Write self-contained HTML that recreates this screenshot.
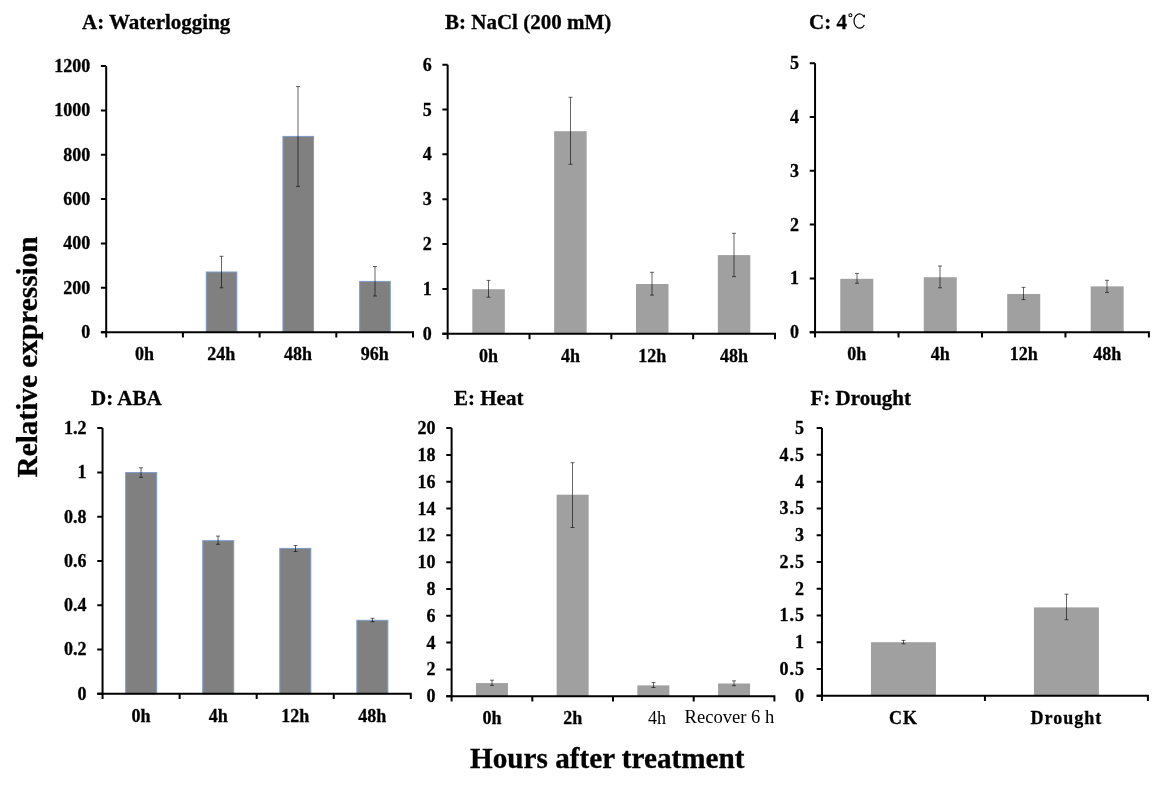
<!DOCTYPE html><html><head><meta charset="utf-8"><style>html,body{margin:0;padding:0;background:#fff;width:1156px;height:790px;overflow:hidden}svg{display:block;will-change:transform}text{font-family:'Liberation Serif', serif;fill:#000}text[font-weight=bold]{stroke:#000;stroke-width:0.3px}</style></head><body>
<svg width="1156" height="790" viewBox="0 0 1156 790">
<text x="82" y="28.5" font-size="21" font-weight="bold">A: Waterlogging</text>
<text x="445" y="29" font-size="21" font-weight="bold">B: NaCl (200 mM)</text>
<text x="809" y="29" font-size="21" font-weight="bold">C: 4</text>
<circle cx="850.4" cy="15.2" r="1.5" fill="none" stroke="#000" stroke-width="1.1"/>
<path d="M864.3 17.2A5.6 7.1 0 1 0 864.3 24.9M864.3 14.8V17.6" fill="none" stroke="#000" stroke-width="1.2"/>
<text x="91" y="405" font-size="21" font-weight="bold">D: ABA</text>
<text x="454" y="405" font-size="21" font-weight="bold">E: Heat</text>
<text x="810.5" y="405" font-size="21" font-weight="bold">F: Drought</text>
<text x="470" y="767.5" font-size="29.2" font-weight="bold">Hours after treatment</text>
<text transform="translate(36.9 477.5) rotate(-90)" x="0" y="0" font-size="29.3" font-weight="bold">Relative expression</text>
<rect x="206.25" y="272.00" width="30.60" height="60.20" fill="#808080" stroke="#7d9bc9" stroke-width="1"/>
<path d="M221.50 256.30V287.80M219.50 256.30H223.50M219.50 287.80H223.50" stroke="#000" stroke-opacity="0.6" stroke-width="1" fill="none"/>
<rect x="282.95" y="136.40" width="30.60" height="195.80" fill="#808080" stroke="#7d9bc9" stroke-width="1"/>
<path d="M298.00 86.60V186.40M296.00 86.60H300.00M296.00 186.40H300.00" stroke="#000" stroke-opacity="0.6" stroke-width="1" fill="none"/>
<rect x="359.65" y="281.40" width="30.60" height="50.80" fill="#808080" stroke="#7d9bc9" stroke-width="1"/>
<path d="M375.00 266.50V296.00M373.00 266.50H377.00M373.00 296.00H377.00" stroke="#000" stroke-opacity="0.6" stroke-width="1" fill="none"/>
<path d="M106.20 66.05V337.50M100.90 332.20H413.00V337.50" stroke="#000" stroke-width="2" fill="none"/>
<path d="M100.90 332.20H106.20M100.90 287.84H106.20M100.90 243.48H106.20M100.90 199.12H106.20M100.90 154.77H106.20M100.90 110.41H106.20M100.90 66.05H106.20M182.90 332.20V337.50M259.60 332.20V337.50M336.30 332.20V337.50" stroke="#000" stroke-width="2" fill="none"/>
<text x="90.20" y="338.20" text-anchor="end" font-size="18" font-weight="bold" letter-spacing="0">0</text>
<text x="90.20" y="293.84" text-anchor="end" font-size="18" font-weight="bold" letter-spacing="0">200</text>
<text x="90.20" y="249.48" text-anchor="end" font-size="18" font-weight="bold" letter-spacing="0">400</text>
<text x="90.20" y="205.12" text-anchor="end" font-size="18" font-weight="bold" letter-spacing="0">600</text>
<text x="90.20" y="160.77" text-anchor="end" font-size="18" font-weight="bold" letter-spacing="0">800</text>
<text x="90.20" y="116.41" text-anchor="end" font-size="18" font-weight="bold" letter-spacing="0">1000</text>
<text x="90.20" y="72.05" text-anchor="end" font-size="18" font-weight="bold" letter-spacing="0">1200</text>
<text x="144.55" y="360.00" text-anchor="middle" font-size="18" font-weight="bold" letter-spacing="0">0h</text>
<text x="221.25" y="360.00" text-anchor="middle" font-size="18" font-weight="bold" letter-spacing="0">24h</text>
<text x="297.95" y="360.00" text-anchor="middle" font-size="18" font-weight="bold" letter-spacing="0">48h</text>
<text x="374.65" y="360.00" text-anchor="middle" font-size="18" font-weight="bold" letter-spacing="0">96h</text>
<rect x="472.33" y="289.20" width="32.50" height="44.63" fill="#a0a0a0"/>
<path d="M488.50 280.40V297.20M486.50 280.40H490.50M486.50 297.20H490.50" stroke="#000" stroke-opacity="0.6" stroke-width="1" fill="none"/>
<rect x="554.16" y="131.20" width="32.50" height="202.63" fill="#a0a0a0"/>
<path d="M570.50 97.30V164.30M568.50 97.30H572.50M568.50 164.30H572.50" stroke="#000" stroke-opacity="0.6" stroke-width="1" fill="none"/>
<rect x="636.00" y="284.00" width="32.50" height="49.83" fill="#a0a0a0"/>
<path d="M652.00 272.30V295.10M650.00 272.30H654.00M650.00 295.10H654.00" stroke="#000" stroke-opacity="0.6" stroke-width="1" fill="none"/>
<rect x="717.83" y="255.10" width="32.50" height="78.73" fill="#a0a0a0"/>
<path d="M734.00 233.30V276.60M732.00 233.30H736.00M732.00 276.60H736.00" stroke="#000" stroke-opacity="0.6" stroke-width="1" fill="none"/>
<path d="M447.66 64.63V339.13M442.36 333.83H775.00V339.13" stroke="#000" stroke-width="2" fill="none"/>
<path d="M442.36 333.83H447.66M442.36 288.96H447.66M442.36 244.10H447.66M442.36 199.23H447.66M442.36 154.36H447.66M442.36 109.50H447.66M442.36 64.63H447.66M529.50 333.83V339.13M611.33 333.83V339.13M693.16 333.83V339.13" stroke="#000" stroke-width="2" fill="none"/>
<text x="431.66" y="339.83" text-anchor="end" font-size="18" font-weight="bold" letter-spacing="0">0</text>
<text x="431.66" y="294.96" text-anchor="end" font-size="18" font-weight="bold" letter-spacing="0">1</text>
<text x="431.66" y="250.10" text-anchor="end" font-size="18" font-weight="bold" letter-spacing="0">2</text>
<text x="431.66" y="205.23" text-anchor="end" font-size="18" font-weight="bold" letter-spacing="0">3</text>
<text x="431.66" y="160.36" text-anchor="end" font-size="18" font-weight="bold" letter-spacing="0">4</text>
<text x="431.66" y="115.50" text-anchor="end" font-size="18" font-weight="bold" letter-spacing="0">5</text>
<text x="431.66" y="70.63" text-anchor="end" font-size="18" font-weight="bold" letter-spacing="0">6</text>
<text x="488.58" y="361.50" text-anchor="middle" font-size="18" font-weight="bold" letter-spacing="0">0h</text>
<text x="570.41" y="361.50" text-anchor="middle" font-size="18" font-weight="bold" letter-spacing="0">4h</text>
<text x="652.25" y="361.50" text-anchor="middle" font-size="18" font-weight="bold" letter-spacing="0">12h</text>
<text x="734.08" y="361.50" text-anchor="middle" font-size="18" font-weight="bold" letter-spacing="0">48h</text>
<rect x="840.28" y="278.80" width="33.00" height="53.40" fill="#a0a0a0"/>
<path d="M857.00 273.40V283.20M855.00 273.40H859.00M855.00 283.20H859.00" stroke="#000" stroke-opacity="0.6" stroke-width="1" fill="none"/>
<rect x="923.74" y="277.20" width="33.00" height="55.00" fill="#a0a0a0"/>
<path d="M940.00 266.00V287.80M938.00 266.00H942.00M938.00 287.80H942.00" stroke="#000" stroke-opacity="0.6" stroke-width="1" fill="none"/>
<rect x="1007.21" y="294.00" width="33.00" height="38.20" fill="#a0a0a0"/>
<path d="M1023.50 287.40V299.60M1021.50 287.40H1025.50M1021.50 299.60H1025.50" stroke="#000" stroke-opacity="0.6" stroke-width="1" fill="none"/>
<rect x="1090.67" y="286.40" width="33.00" height="45.80" fill="#a0a0a0"/>
<path d="M1107.00 280.30V292.40M1105.00 280.30H1109.00M1105.00 292.40H1109.00" stroke="#000" stroke-opacity="0.6" stroke-width="1" fill="none"/>
<path d="M815.05 63.15V337.50M809.75 332.20H1148.90V337.50" stroke="#000" stroke-width="2" fill="none"/>
<path d="M809.75 332.20H815.05M809.75 278.39H815.05M809.75 224.58H815.05M809.75 170.77H815.05M809.75 116.96H815.05M809.75 63.15H815.05M898.51 332.20V337.50M981.98 332.20V337.50M1065.44 332.20V337.50" stroke="#000" stroke-width="2" fill="none"/>
<text x="799.05" y="338.20" text-anchor="end" font-size="18" font-weight="bold" letter-spacing="0">0</text>
<text x="799.05" y="284.39" text-anchor="end" font-size="18" font-weight="bold" letter-spacing="0">1</text>
<text x="799.05" y="230.58" text-anchor="end" font-size="18" font-weight="bold" letter-spacing="0">2</text>
<text x="799.05" y="176.77" text-anchor="end" font-size="18" font-weight="bold" letter-spacing="0">3</text>
<text x="799.05" y="122.96" text-anchor="end" font-size="18" font-weight="bold" letter-spacing="0">4</text>
<text x="799.05" y="69.15" text-anchor="end" font-size="18" font-weight="bold" letter-spacing="0">5</text>
<text x="856.78" y="360.00" text-anchor="middle" font-size="18" font-weight="bold" letter-spacing="0">0h</text>
<text x="940.24" y="360.00" text-anchor="middle" font-size="18" font-weight="bold" letter-spacing="0">4h</text>
<text x="1023.71" y="360.00" text-anchor="middle" font-size="18" font-weight="bold" letter-spacing="0">12h</text>
<text x="1107.17" y="360.00" text-anchor="middle" font-size="18" font-weight="bold" letter-spacing="0">48h</text>
<rect x="125.68" y="472.60" width="31.00" height="221.15" fill="#808080" stroke="#7d9bc9" stroke-width="1"/>
<path d="M141.00 467.80V477.30M139.00 467.80H143.00M139.00 477.30H143.00" stroke="#000" stroke-opacity="0.6" stroke-width="1" fill="none"/>
<rect x="202.74" y="540.70" width="31.00" height="153.05" fill="#808080" stroke="#7d9bc9" stroke-width="1"/>
<path d="M218.00 536.10V544.30M216.00 536.10H220.00M216.00 544.30H220.00" stroke="#000" stroke-opacity="0.6" stroke-width="1" fill="none"/>
<rect x="279.81" y="548.40" width="31.00" height="145.35" fill="#808080" stroke="#7d9bc9" stroke-width="1"/>
<path d="M295.50 545.50V551.50M293.50 545.50H297.50M293.50 551.50H297.50" stroke="#000" stroke-opacity="0.6" stroke-width="1" fill="none"/>
<rect x="356.87" y="620.30" width="31.00" height="73.45" fill="#808080" stroke="#7d9bc9" stroke-width="1"/>
<path d="M372.50 618.30V621.70M370.50 618.30H374.50M370.50 621.70H374.50" stroke="#000" stroke-opacity="0.6" stroke-width="1" fill="none"/>
<path d="M102.55 428.10V699.05M97.25 693.75H410.80V699.05" stroke="#000" stroke-width="2" fill="none"/>
<path d="M97.25 693.75H102.55M97.25 649.48H102.55M97.25 605.20H102.55M97.25 560.92H102.55M97.25 516.65H102.55M97.25 472.38H102.55M97.25 428.10H102.55M179.61 693.75V699.05M256.68 693.75V699.05M333.74 693.75V699.05" stroke="#000" stroke-width="2" fill="none"/>
<text x="86.55" y="699.75" text-anchor="end" font-size="18" font-weight="bold" letter-spacing="0">0</text>
<text x="86.55" y="655.48" text-anchor="end" font-size="18" font-weight="bold" letter-spacing="0">0.2</text>
<text x="86.55" y="611.20" text-anchor="end" font-size="18" font-weight="bold" letter-spacing="0">0.4</text>
<text x="86.55" y="566.92" text-anchor="end" font-size="18" font-weight="bold" letter-spacing="0">0.6</text>
<text x="86.55" y="522.65" text-anchor="end" font-size="18" font-weight="bold" letter-spacing="0">0.8</text>
<text x="86.55" y="478.38" text-anchor="end" font-size="18" font-weight="bold" letter-spacing="0">1</text>
<text x="86.55" y="434.10" text-anchor="end" font-size="18" font-weight="bold" letter-spacing="0">1.2</text>
<text x="141.08" y="721.50" text-anchor="middle" font-size="18" font-weight="bold" letter-spacing="0">0h</text>
<text x="218.14" y="721.50" text-anchor="middle" font-size="18" font-weight="bold" letter-spacing="0">4h</text>
<text x="295.21" y="721.50" text-anchor="middle" font-size="18" font-weight="bold" letter-spacing="0">12h</text>
<text x="372.27" y="721.50" text-anchor="middle" font-size="18" font-weight="bold" letter-spacing="0">48h</text>
<rect x="475.95" y="683.10" width="32.00" height="13.10" fill="#a0a0a0"/>
<path d="M492.00 680.20V685.40M490.00 680.20H494.00M490.00 685.40H494.00" stroke="#000" stroke-opacity="0.6" stroke-width="1" fill="none"/>
<rect x="556.65" y="494.70" width="32.00" height="201.50" fill="#a0a0a0"/>
<path d="M572.50 462.70V527.50M570.50 462.70H574.50M570.50 527.50H574.50" stroke="#000" stroke-opacity="0.6" stroke-width="1" fill="none"/>
<rect x="637.35" y="685.40" width="32.00" height="10.80" fill="#a0a0a0"/>
<path d="M653.50 682.60V687.50M651.50 682.60H655.50M651.50 687.50H655.50" stroke="#000" stroke-opacity="0.6" stroke-width="1" fill="none"/>
<rect x="718.05" y="683.50" width="32.00" height="12.70" fill="#a0a0a0"/>
<path d="M734.00 680.90V685.70M732.00 680.90H736.00M732.00 685.70H736.00" stroke="#000" stroke-opacity="0.6" stroke-width="1" fill="none"/>
<path d="M451.60 428.10V701.50M446.30 696.20H774.40V701.50" stroke="#000" stroke-width="2" fill="none"/>
<path d="M446.30 696.20H451.60M446.30 669.39H451.60M446.30 642.58H451.60M446.30 615.77H451.60M446.30 588.96H451.60M446.30 562.15H451.60M446.30 535.34H451.60M446.30 508.53H451.60M446.30 481.72H451.60M446.30 454.91H451.60M446.30 428.10H451.60M532.30 696.20V701.50M613.00 696.20V701.50M693.70 696.20V701.50" stroke="#000" stroke-width="2" fill="none"/>
<text x="435.60" y="702.20" text-anchor="end" font-size="18" font-weight="bold" letter-spacing="0">0</text>
<text x="435.60" y="675.39" text-anchor="end" font-size="18" font-weight="bold" letter-spacing="0">2</text>
<text x="435.60" y="648.58" text-anchor="end" font-size="18" font-weight="bold" letter-spacing="0">4</text>
<text x="435.60" y="621.77" text-anchor="end" font-size="18" font-weight="bold" letter-spacing="0">6</text>
<text x="435.60" y="594.96" text-anchor="end" font-size="18" font-weight="bold" letter-spacing="0">8</text>
<text x="435.60" y="568.15" text-anchor="end" font-size="18" font-weight="bold" letter-spacing="0">10</text>
<text x="435.60" y="541.34" text-anchor="end" font-size="18" font-weight="bold" letter-spacing="0">12</text>
<text x="435.60" y="514.53" text-anchor="end" font-size="18" font-weight="bold" letter-spacing="0">14</text>
<text x="435.60" y="487.72" text-anchor="end" font-size="18" font-weight="bold" letter-spacing="0">16</text>
<text x="435.60" y="460.91" text-anchor="end" font-size="18" font-weight="bold" letter-spacing="0">18</text>
<text x="435.60" y="434.10" text-anchor="end" font-size="18" font-weight="bold" letter-spacing="0">20</text>
<text x="491.95" y="723.50" text-anchor="middle" font-size="18" font-weight="bold" letter-spacing="0">0h</text>
<text x="572.65" y="723.50" text-anchor="middle" font-size="18" font-weight="bold" letter-spacing="0">2h</text>
<text x="648" y="723.5" font-size="18" font-weight="normal">4h</text>
<text x="684.5" y="723" font-size="18.6" font-weight="normal">Recover 6 h</text>
<rect x="870.94" y="642.20" width="65.00" height="53.53" fill="#a0a0a0"/>
<path d="M903.50 640.40V643.80M901.50 640.40H905.50M901.50 643.80H905.50" stroke="#000" stroke-opacity="0.6" stroke-width="1" fill="none"/>
<rect x="1033.91" y="607.40" width="65.00" height="88.33" fill="#a0a0a0"/>
<path d="M1066.50 594.20V619.70M1064.50 594.20H1068.50M1064.50 619.70H1068.50" stroke="#000" stroke-opacity="0.6" stroke-width="1" fill="none"/>
<path d="M821.95 428.10V701.03M816.65 695.73H1147.90V701.03" stroke="#000" stroke-width="2" fill="none"/>
<path d="M816.65 695.73H821.95M816.65 668.97H821.95M816.65 642.20H821.95M816.65 615.44H821.95M816.65 588.68H821.95M816.65 561.91H821.95M816.65 535.15H821.95M816.65 508.39H821.95M816.65 481.63H821.95M816.65 454.86H821.95M816.65 428.10H821.95M984.93 695.73V701.03" stroke="#000" stroke-width="2" fill="none"/>
<text x="804.95" y="701.73" text-anchor="end" font-size="18" font-weight="bold" letter-spacing="1">0</text>
<text x="804.95" y="674.97" text-anchor="end" font-size="18" font-weight="bold" letter-spacing="1">0.5</text>
<text x="804.95" y="648.20" text-anchor="end" font-size="18" font-weight="bold" letter-spacing="1">1</text>
<text x="804.95" y="621.44" text-anchor="end" font-size="18" font-weight="bold" letter-spacing="1">1.5</text>
<text x="804.95" y="594.68" text-anchor="end" font-size="18" font-weight="bold" letter-spacing="1">2</text>
<text x="804.95" y="567.91" text-anchor="end" font-size="18" font-weight="bold" letter-spacing="1">2.5</text>
<text x="804.95" y="541.15" text-anchor="end" font-size="18" font-weight="bold" letter-spacing="1">3</text>
<text x="804.95" y="514.39" text-anchor="end" font-size="18" font-weight="bold" letter-spacing="1">3.5</text>
<text x="804.95" y="487.63" text-anchor="end" font-size="18" font-weight="bold" letter-spacing="1">4</text>
<text x="804.95" y="460.86" text-anchor="end" font-size="18" font-weight="bold" letter-spacing="1">4.5</text>
<text x="804.95" y="434.10" text-anchor="end" font-size="18" font-weight="bold" letter-spacing="1">5</text>
<text x="903.44" y="723.50" text-anchor="middle" font-size="18" font-weight="bold" letter-spacing="1">CK</text>
<text x="1066.41" y="723.50" text-anchor="middle" font-size="18" font-weight="bold" letter-spacing="1">Drought</text>
</svg></body></html>
